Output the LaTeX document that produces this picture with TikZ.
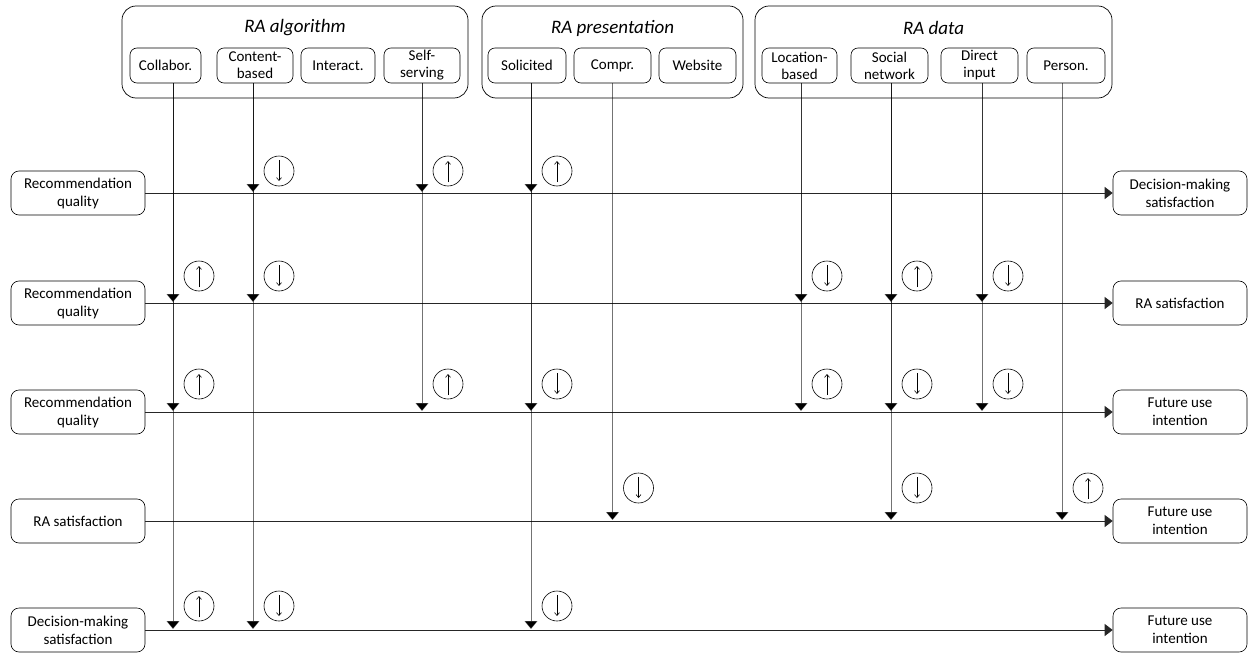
\documentclass[tikz,border=0pt]{standalone}
\usepackage{fontspec}
\setmainfont{Carlito}
\usetikzlibrary{arrows.meta}
\begin{document}
\begin{tikzpicture}[x=1pt,y=-1pt,
  outer/.style={draw, rounded corners=14pt, line width=0.7pt, inner sep=0pt},
  inner/.style={draw, rounded corners=7pt, line width=0.6pt, align=center, minimum height=35pt,
    font=\fontsize{15}{17}\selectfont, inner sep=0pt},
  side/.style={draw, rounded corners=8pt, line width=0.6pt, minimum width=134pt, minimum height=44pt,
    align=center, font=\fontsize{15}{18}\selectfont, inner sep=0pt},
  titletext/.style={font=\fontsize{19}{22}\selectfont\itshape, inner sep=0pt},
  hline/.style={line width=0.9pt, draw=black!85, -{Triangle[length=8pt,width=12pt]}},
  vline/.style={line width=0.9pt, draw opacity=0.55, -{Triangle[length=8pt,width=13pt]}, shorten >=1pt},
  sign/.style={draw, circle, minimum size=30pt, inner sep=0pt, line width=0.6pt},
  signarrow/.style={line width=0.6pt, -{Straight Barb[length=3pt,width=5pt]}},
]
\useasboundingbox (0,0) rectangle (1248,653);

% group boxes
\node[outer, minimum width=346pt, minimum height=92pt] (alg) at (295,52) {};
\node[titletext] (algt) at (295,28) {RA algorithm};
\node[outer, minimum width=261pt, minimum height=92pt] (pres) at (612.5,52) {};
\node[titletext] (prest) at (612.5,28) {RA presentation};
\node[outer, minimum width=357pt, minimum height=92pt] (data) at (933.5,52) {};
\node[titletext] (datat) at (933.5,28) {RA data};

% inner boxes
\node[inner, minimum width=71pt] (coll) at (165.5,65.5) {Collabor.};
\node[inner, minimum width=76pt] (cont) at (255,65.5) {Content-\\based};
\node[inner, minimum width=74pt] (inter) at (338,65.5) {Interact.};
\node[inner, minimum width=76pt] (self) at (422,65.5) {Self-\\serving};
\node[inner, minimum width=78pt] (soli) at (527,65.5) {Solicited};
\node[inner, minimum width=77pt] (compr) at (612.5,65.5) {Compr.};
\node[inner, minimum width=77pt] (web) at (697.5,65.5) {Website};
\node[inner, minimum width=75pt] (loc) at (799.5,65.5) {Location-\\based};
\node[inner, minimum width=77pt] (soc) at (889.5,65.5) {Social\\network};
\node[inner, minimum width=77pt] (dinp) at (979.5,65.5) {Direct\\input};
\node[inner, minimum width=78pt] (pers) at (1066,65.5) {Person.};

% left / right boxes
\node[side] (L1) at (78,193) {Recommendation\\quality};
\node[side] (L2) at (78,303) {Recommendation\\quality};
\node[side] (L3) at (78,412) {Recommendation\\quality};
\node[side] (L4) at (78,521) {RA satisfaction};
\node[side] (L5) at (78,630) {Decision-making\\satisfaction};
\node[side] (R1) at (1180,193) {Decision-making\\satisfaction};
\node[side] (R2) at (1180,303) {RA satisfaction};
\node[side] (R3) at (1180,412) {Future use\\intention};
\node[side] (R4) at (1180,521) {Future use\\intention};
\node[side] (R5) at (1180,630) {Future use\\intention};

\foreach \r in {1,...,5} \draw[hline] (L\r.east) -- (R\r.west);

% vertical influences: source / x offset / row / direction / circle offset
\foreach \src/\dx/\row/\dir/\off [count=\i] in {
  cont/-2/1/-1/22, self/0/1/1/22, soli/4/1/1/22,
  coll/7.5/2/1/27, cont/-2/2/-1/27, loc/1.5/2/-1/27, soc/1.5/2/1/27, dinp/2.5/2/-1/27,
  coll/7.5/3/1/28, self/0/3/1/28, soli/4/3/-1/28, loc/1.5/3/1/28, soc/1.5/3/-1/28, dinp/2.5/3/-1/28,
  compr/0/4/-1/33, soc/1.5/4/-1/33, pers/-4/4/1/33,
  coll/7.5/5/1/24, cont/-2/5/-1/24, soli/4/5/-1/24}{
  \coordinate (t\i) at ([xshift=\dx pt]\src.south);
  \coordinate (b\i) at (t\i |- L\row.east);
  \draw[vline] (t\i) -- (b\i);
  \node[sign] (s\i) at ([xshift=26pt,yshift=\off pt]b\i) {};
  \draw[signarrow] ([yshift={-11*(\dir)}]s\i.center) -- ([yshift={10*(\dir)}]s\i.center);
}
\end{tikzpicture}
\end{document}
